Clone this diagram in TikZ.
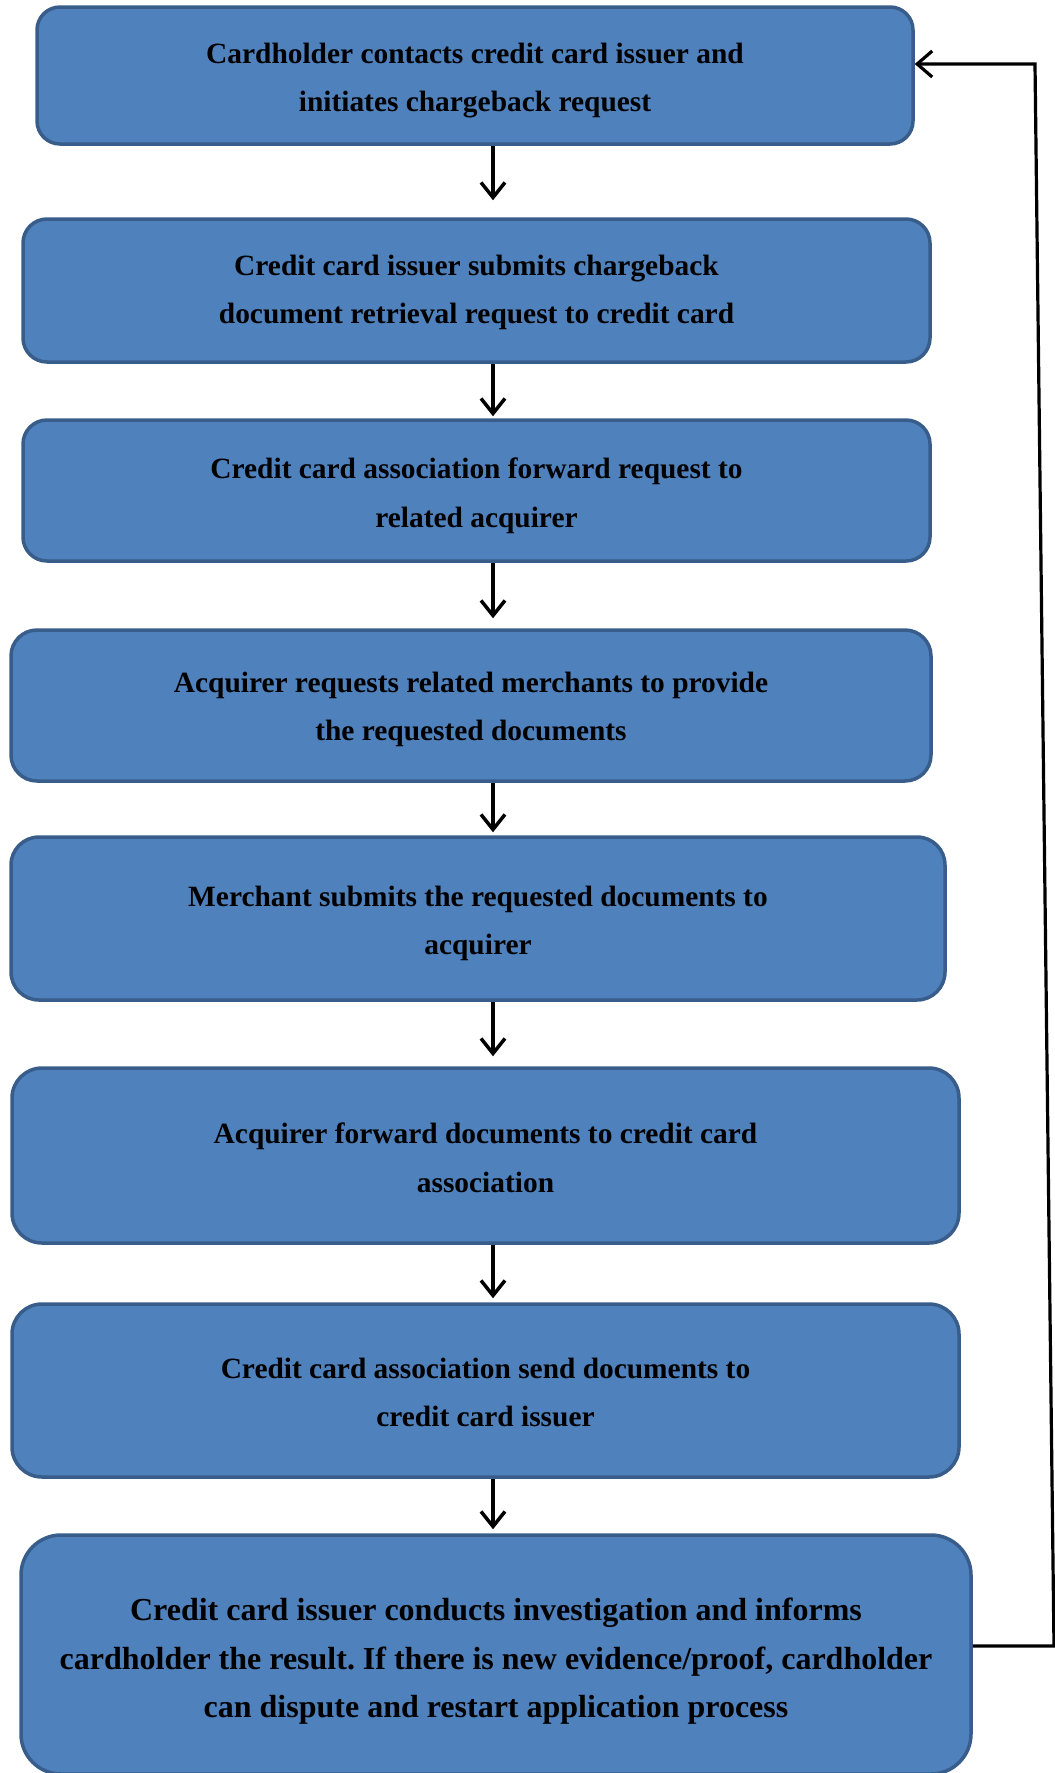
\documentclass[tikz,border=0pt]{standalone}
\usepackage{fontspec}
\setmainfont{Liberation Serif}
\usetikzlibrary{arrows.meta,calc}
\definecolor{boxfill}{HTML}{4F81BD}
\definecolor{boxline}{HTML}{385D8A}
\frenchspacing
\tikzset{
  flowbox/.style={draw=boxline, fill=boxfill, line width=3.5pt, inner sep=0pt},
  flowtext/.style={align=center, inner sep=0pt, text=black, yshift=-5pt,
    font=\bfseries\fontsize{29.4}{48.6}\selectfont},
  bigtext/.style={flowtext, font=\bfseries\fontsize{32}{48.6}\selectfont},
  flowarrow/.style={line width=3.5pt, -{Straight Barb[length=15pt,width=24pt,line width=3.5pt]}},
  backarrow/.style={line width=3.2pt, line join=miter, -{Straight Barb[length=15pt,width=26pt,line width=3.2pt]}}
}
\begin{document}
\begin{tikzpicture}[x=1pt,y=-1pt]
\useasboundingbox (0,0) rectangle (1055,1773);
\node[flowbox, minimum width=876pt, minimum height=137pt, rounded corners=23pt,
  label={[flowtext]center:{Cardholder contacts credit card issuer and\\initiates chargeback request}}] (a) at (475,75.5) {};
\node[flowbox, minimum width=907pt, minimum height=143pt, rounded corners=24pt,
  label={[flowtext, yshift=3pt]center:{Credit card issuer submits chargeback\\document retrieval request to credit card}}] (b) at (476.5,290.5) {};
\node[flowbox, minimum width=907pt, minimum height=141pt, rounded corners=24pt,
  label={[flowtext]center:{Credit card association forward request to\\related acquirer}}] (c) at (476.5,490.5) {};
\node[flowbox, minimum width=920pt, minimum height=151pt, rounded corners=26pt,
  label={[flowtext, yshift=1pt]center:{Acquirer requests related merchants to provide\\the requested documents}}] (d) at (471,705.5) {};
\node[flowbox, minimum width=934pt, minimum height=163pt, rounded corners=28pt,
  label={[flowtext]center:{Merchant submits the requested documents to\\acquirer}}] (e) at (478,918.5) {};
\node[flowbox, minimum width=947pt, minimum height=175pt, rounded corners=30pt,
  label={[flowtext, yshift=3pt]center:{Acquirer forward documents to credit card\\association}}] (f) at (485.5,1155.5) {};
\node[flowbox, minimum width=947pt, minimum height=173pt, rounded corners=30pt,
  label={[flowtext, yshift=3pt]center:{Credit card association send documents to\\credit card issuer}}] (g) at (485.5,1390.5) {};
\node[flowbox, minimum width=950pt, minimum height=239pt, rounded corners=40pt,
  label={[bigtext, yshift=-2pt]center:{Credit card issuer conducts investigation and informs\\cardholder the result. If there is new evidence/proof, cardholder\\can dispute and restart application process}}] (h) at (496,1654.5) {};
\coordinate (ax) at (493,0);
\draw[flowarrow, shorten >=17pt] (a.south -| ax) -- (b.north -| ax);
\draw[flowarrow, shorten >=2pt] (b.south -| ax) -- (c.north -| ax);
\draw[flowarrow, shorten >=10pt] (c.south -| ax) -- (d.north -| ax);
\draw[flowarrow, shorten >=3pt] (d.south -| ax) -- (e.north -| ax);
\draw[flowarrow, shorten >=10pt] (e.south -| ax) -- (f.north -| ax);
\draw[flowarrow, shorten >=4pt] (f.south -| ax) -- (g.north -| ax);
\draw[flowarrow, shorten >=4pt] (g.south -| ax) -- (h.north -| ax);
\coordinate (fb1) at (1054,1646);
\coordinate (fb2) at (1035,64);
\draw[backarrow] (h.east |- fb1) -- (fb1) -- (fb2) -- (a.east |- fb2);
\end{tikzpicture}
\end{document}
